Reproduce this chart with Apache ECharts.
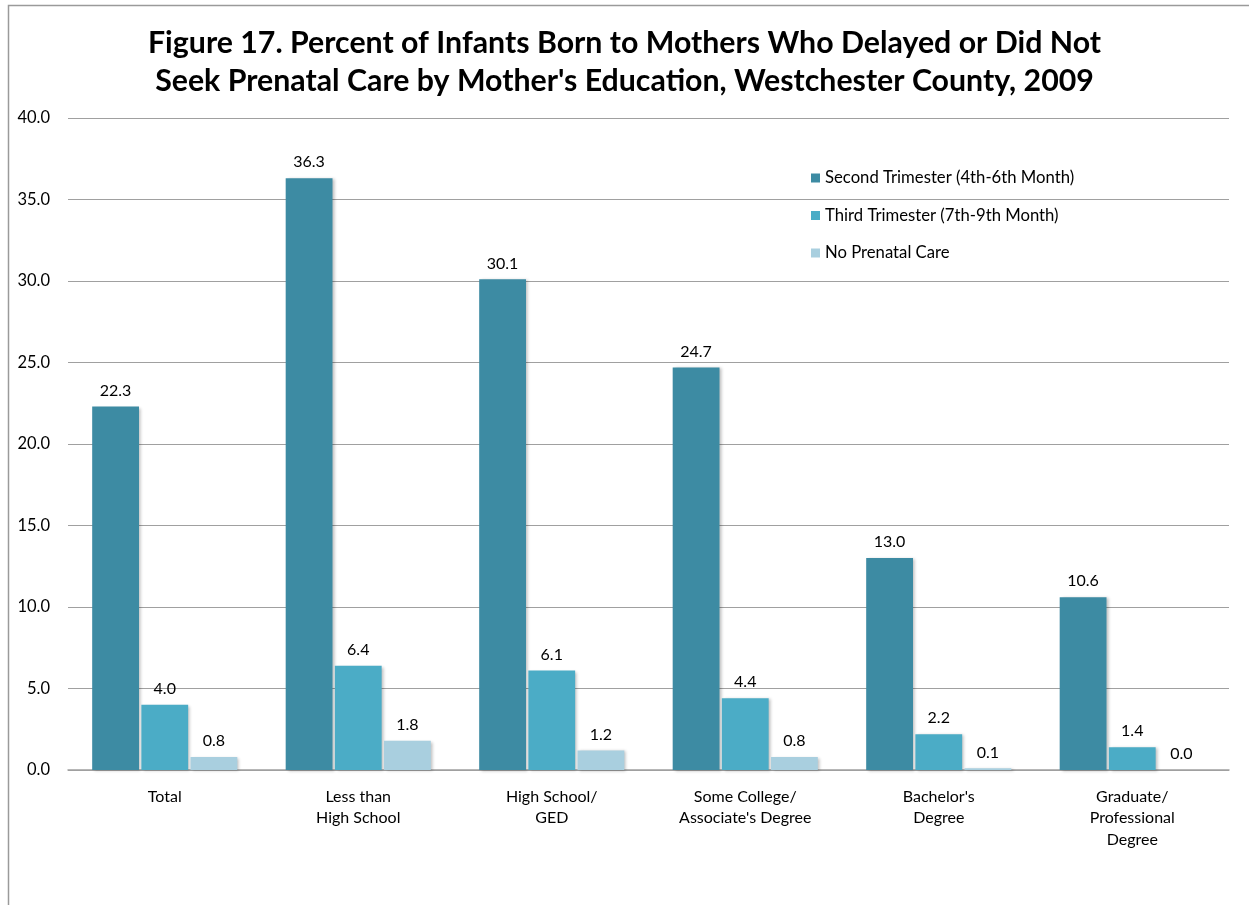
<!DOCTYPE html>
<html>
<head>
<meta charset="utf-8">
<script src="https://cdn.jsdelivr.net/npm/echarts@6/dist/echarts.min.js"></script>
<style>
html,body{margin:0;padding:0;background:#fff;}
#chart{width:1249px;height:905px;}
</style>
</head>
<body>
<div id="chart"></div>
<script>
const categories = ['Total', 'Less than\nHigh School', 'High School/\nGED', 'Some College/\nAssociate\'s Degree', 'Bachelor\'s\nDegree', 'Graduate/\nProfessional\nDegree'];
const seriesNames = ['Second Trimester (4th-6th Month)', 'Third Trimester (7th-9th Month)', 'No Prenatal Care'];
const secondTrimester = [22.3, 36.3, 30.1, 24.7, 13.0, 10.6];
const thirdTrimester = [4.0, 6.4, 6.1, 4.4, 2.2, 1.4];
const noPrenatalCare = [0.8, 1.8, 1.2, 0.8, 0.1, 0.0];
const colors = ['#3D8BA3', '#4BACC6', '#A9CFDF'];
const titleText = 'Figure 17. Percent of Infants Born to Mothers Who Delayed or Did Not\nSeek Prenatal Care by Mother\'s Education, Westchester County, 2009';

const FONT = 'Lato';
const chart = echarts.init(document.getElementById('chart'), null, {renderer: 'canvas'});

function barSeries(name, data, color) {
  return {
    name: name,
    type: 'bar',
    data: data,
    barGap: '5%',
    barCategoryGap: '25%',
    itemStyle: {
      color: color,
      shadowBlur: 3,
      shadowOffsetX: 2,
      shadowOffsetY: 1,
      shadowColor: 'rgba(0,0,0,0.25)'
    },
    label: {
      show: true,
      position: 'top',
      distance: 8,
      color: '#000',
      fontFamily: FONT,
      fontSize: 16,
      formatter: p => p.value.toFixed(1)
    }
  };
}

chart.setOption({
  animation: false,
  backgroundColor: '#fff',
  color: colors,
  graphic: [{
    type: 'rect',
    shape: {x: 8.5, y: 5.5, width: 1400, height: 1000},
    style: {fill: 'none', stroke: '#9a9a9a', lineWidth: 1.5},
    silent: true,
    z: -1
  }],
  title: {
    text: titleText,
    left: 'center',
    top: 19,
    padding: [5, 0, 5, 14],
    textStyle: {
      fontFamily: FONT,
      fontWeight: 'bold',
      fontSize: 30.3,
      lineHeight: 38,
      color: '#000'
    }
  },
  legend: {
    orient: 'vertical',
    left: 811,
    top: 169,
    padding: 0,
    itemWidth: 9,
    itemHeight: 9,
    itemGap: 19.5,
    icon: 'rect',
    data: seriesNames,
    textStyle: {fontFamily: FONT, fontSize: 16.7, lineHeight: 18, color: '#000'}
  },
  grid: {left: 68, right: 20, top: 118, bottom: 135, containLabel: false},
  xAxis: {
    type: 'category',
    data: categories,
    axisTick: {show: false},
    axisLine: {lineStyle: {color: '#a0a0a0', width: 1.5}},
    axisLabel: {
      interval: 0,
      margin: 16,
      color: '#000',
      fontFamily: FONT,
      fontSize: 16,
      lineHeight: 21.5
    }
  },
  yAxis: {
    type: 'value',
    min: 0,
    max: 40,
    interval: 5,
    axisLine: {show: false},
    axisTick: {show: false},
    splitLine: {lineStyle: {color: '#a0a0a0', width: 1.2}},
    axisLabel: {
      margin: 18,
      color: '#000',
      fontFamily: FONT,
      fontSize: 16.5,
      formatter: v => v.toFixed(1)
    }
  },
  series: [
    barSeries(seriesNames[0], secondTrimester, colors[0]),
    barSeries(seriesNames[1], thirdTrimester, colors[1]),
    barSeries(seriesNames[2], noPrenatalCare, colors[2])
  ]
});
</script>
</body>
</html>
